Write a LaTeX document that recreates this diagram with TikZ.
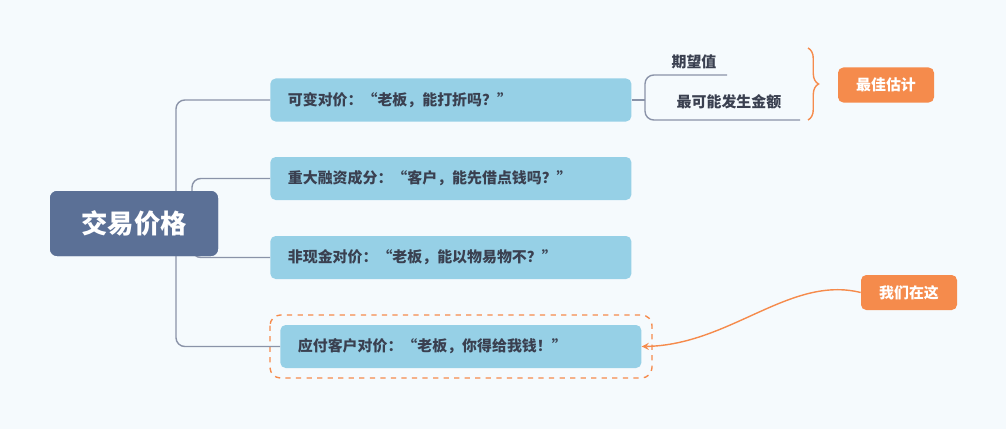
\documentclass[tikz,border=0pt]{standalone}
\usepackage{fontspec}
\setmainfont{Noto Sans CJK SC}
\usetikzlibrary{positioning,decorations.pathreplacing}
\definecolor{bgc}{HTML}{F5FAFD}
\definecolor{rootc}{HTML}{5B7096}
\definecolor{kidc}{HTML}{96D0E6}
\definecolor{linec}{HTML}{8A93A8}
\definecolor{orc}{HTML}{F58B4C}
\definecolor{txtc}{HTML}{3A4050}
\tikzset{
  kid/.style={fill=kidc, rounded corners=3pt, minimum width=361*0.02cm, minimum height=43*0.02cm, text=txtc, font=\bfseries\fontsize{8.5}{10}\selectfont, anchor=west, inner xsep=10pt, text width=361*0.02cm-20pt},
  tag/.style={fill=orc, rounded corners=3pt, text=white, font=\bfseries\fontsize{8.5}{10}\selectfont, minimum height=35*0.02cm, minimum width=96*0.02cm},
  leaf/.style={text=txtc, font=\bfseries\fontsize{8.5}{10}\selectfont},
  conn/.style={draw=linec, line width=0.8pt, rounded corners=5pt}
}
\begin{document}
\begin{tikzpicture}[x=0.02cm, y=-0.02cm, >=stealth]
    \fill[bgc] (0,0) rectangle (1006,429);
    \useasboundingbox (0,0) rectangle (1006,429);

    % Root and main branches
    \node[fill=rootc, rounded corners=4pt, minimum width=168*0.02cm, minimum height=65*0.02cm, text=white, font=\bfseries\fontsize{15}{18}\selectfont] (root) at (134,223.5) {交易价格};
    \node[kid] (k1) at (270,100) {可变对价：“老板，能打折吗？”};
    \node[kid] (k2) at (270,178.5) {重大融资成分：“客户，能先借点钱吗？”};
    \node[kid] (k3) at (270,257.5) {非现金对价：“老板，能以物易物不？”};
    \node[kid] (k4) at (280,346.5) {应付客户对价：“老板，你得给我钱！”};
    \draw[orc, dashed, line width=0.8pt, rounded corners=6pt] (270,315) rectangle (652,378);

    % Connectors
    \begin{scope}[on background layer/.style={}]
    \draw[conn] (176,223) |- (k1.west);
    \draw[conn] (176,223) |- (k4.west);
    \draw[conn] (192,195) |- (k2.west);
    \draw[conn] (192,252) |- (k3.west);
    \end{scope}
    \node[fill=rootc, rounded corners=4pt, minimum width=168*0.02cm, minimum height=65*0.02cm, text=white, font=\bfseries\fontsize{15}{18}\selectfont] at (root) {交易价格};

    % Leaves of the first branch
    \node[leaf] (e1) at (694,62) {期望值};
    \node[leaf] (e2) at (729,102) {最可能发生金额};
    \coordinate (j) at (645,100);
    \draw[conn] (k1.east) -- (j);
    \draw[conn] (j) |- (727,75);
    \draw[conn] (j) |- (800,120);

    % Tags
    \draw[orc, line width=0.8pt, decoration={brace, amplitude=6pt}, decorate] (808,48) -- (808,120);
    \node[tag] (best) at (886,85) {最佳估计};
    \node[tag] (here) at (909,292.5) {我们在这};
    \draw[->, orc, line width=0.8pt] (here.west) .. controls (790,275) and (730,345) .. (k4.east);
\end{tikzpicture}
\end{document}
